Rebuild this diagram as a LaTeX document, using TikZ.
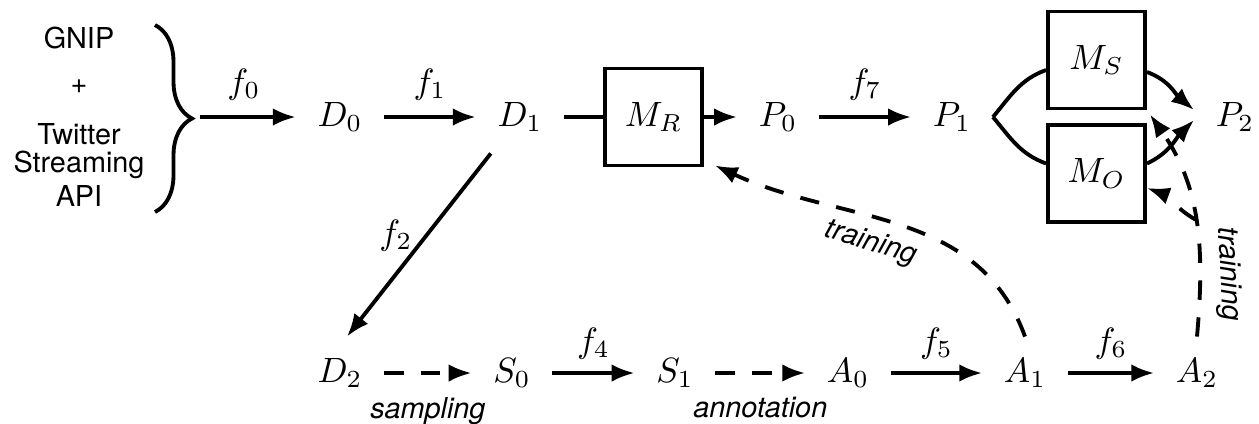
\documentclass[tikz,border=0pt]{standalone}
\usepackage{fontspec}
\newfontfamily\heros{TeX Gyre Heros}
\usetikzlibrary{arrows.meta,decorations.pathreplacing}

\tikzset{
trait/.style={line width=1.1pt},
etat/.style={inner sep=6pt},
modele/.style={draw,trait,minimum size=0.97cm,inner sep=0pt},
fleche/.style={trait,->},
pointille/.style={trait,->,dash pattern=on 5.5pt off 5pt},
etiquette/.style={font=\heros\fontsize{8.2}{9.8}\selectfont},
}

\begin{document}
\begin{tikzpicture}[>={Latex[length=6.5pt,width=5pt]}]

\useasboundingbox (0,0) rectangle (12.59,4.23);

% Sources
\node[etiquette] (gnip)
at (0.79,3.85)
{GNIP};
\node[etiquette] (plus)
at (0.79,3.36)
{+};
\node[etiquette] (twitter)
at (0.79,2.89)
{Twitter};
\node[etiquette] (streaming)
at (0.79,2.58)
{Streaming};
\node[etiquette] (api)
at (0.79,2.27)
{API};

\draw[trait,decorate,decoration={brace,amplitude=0.37cm}]
(1.55,3.98)
--
(1.55,2.11);
\coordinate (src) at (1.92,3.06);

% Chaine du haut
\node[etat] (D0) at (3.40,3.06) {$D_0$};
\node[etat] (D1) at (5.20,3.06) {$D_1$};
\node[modele] (MR) at (6.535,3.06) {$M_R$};
\node[etat] (P0) at (7.78,3.06) {$P_0$};
\node[etat] (P1) at (9.52,3.06) {$P_1$};
\node[modele] (MS) at (10.965,3.63) {$M_S$};
\node[modele] (MO) at (10.965,2.495) {$M_O$};
\node[etat] (P2) at (12.35,3.06) {$P_2$};

\draw[fleche,shorten <=0.08cm] (src) -- node[above=1pt] {$f_0$} (D0);
\draw[fleche] (D0) -- node[above=1pt] {$f_1$} (D1);
\draw[trait] (D1) -- (MR);
\draw[fleche] (MR) -- (P0);
\draw[fleche] (P0) -- node[above=1pt] {$f_7$} (P1);

\draw[trait] (P1.east) to[out=50,in=200] ([yshift=-0.1cm]MS.west);
\draw[trait] (P1.east) to[out=-50,in=160] ([yshift=0.1cm]MO.west);
\draw[fleche] ([yshift=-0.12cm]MS.east) to[out=-20,in=140] ([yshift=0.07cm]P2.west);
\draw[fleche] ([yshift=0.1cm]MO.east) to[out=25,in=-135] ([yshift=-0.03cm]P2.west);

% Chaine du bas
\node[etat] (D2) at (3.40,0.50) {$D_2$};
\node[etat] (S0) at (5.12,0.50) {$S_0$};
\node[etat] (S1) at (6.75,0.50) {$S_1$};
\node[etat] (A0) at (8.48,0.50) {$A_0$};
\node[etat] (A1) at (10.25,0.50) {$A_1$};
\node[etat] (A2) at (11.97,0.50) {$A_2$};

\draw[fleche] ([xshift=0.15cm]D1.south west) -- node[left,pos=0.45] {$f_2$} ([xshift=0.07cm]D2.north);

\draw[pointille] (D2) -- node[etiquette,below=3pt] {\itshape sampling} (S0);
\draw[fleche] (S0) -- node[above] {$f_4$} (S1);
\draw[pointille] (S1) -- node[etiquette,below=3pt] {\itshape annotation} (A0);
\draw[fleche] (A0) -- node[above] {$f_5$} (A1);
\draw[fleche] (A1) -- node[above] {$f_6$} (A2);

% Entrainement
\draw[pointille] (A1.north) to[out=110,in=-25] node[etiquette,sloped,below,pos=0.56] {\itshape training} ([shift={(0.11,0.02)}]MR.south east);
\draw[pointille] (A2.north) to[out=85,in=-55] coordinate[pos=0.5] (fourche) ([shift={(0.03,-0.04)}]MS.south east);
\draw[pointille] (fourche) to[out=150,in=-20] ([yshift=-0.145cm]MO.east);
\node[etiquette,rotate=-87] (entr2)
at (12.28,1.49)
{\itshape training};

\end{tikzpicture}
\end{document}
